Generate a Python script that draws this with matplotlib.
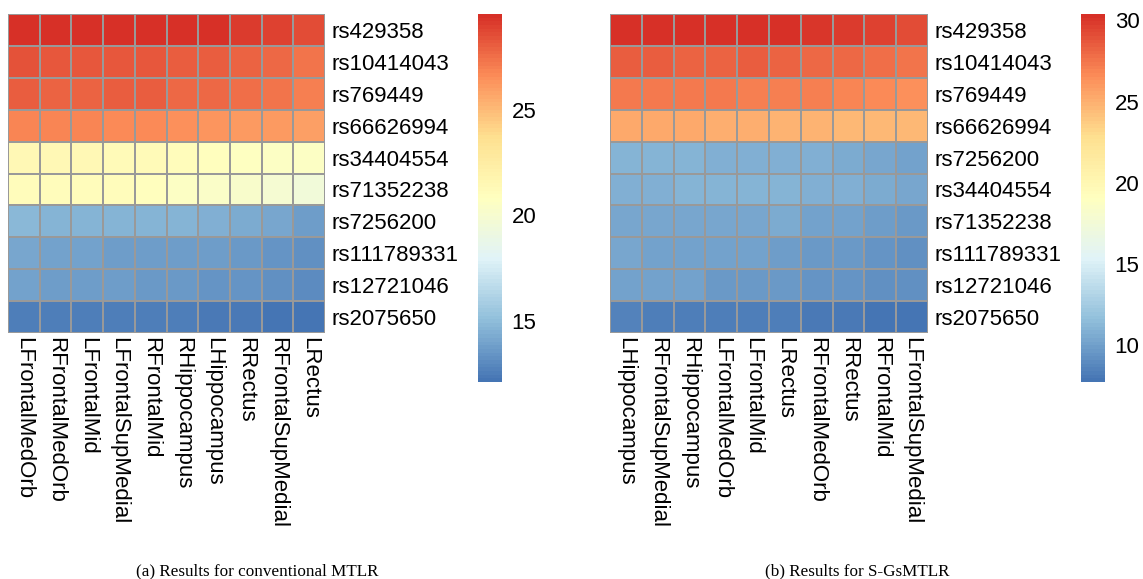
import numpy as np
import matplotlib
matplotlib.use("Agg")
import matplotlib.pyplot as plt
from matplotlib.colors import LinearSegmentedColormap

# ── Data ──────────────────────────────────────────────────────────────────────

snps_a = ["rs429358", "rs10414043", "rs769449", "rs66626994", "rs34404554",
          "rs71352238", "rs7256200", "rs111789331", "rs12721046", "rs2075650"]
regions_a = ["LFrontalMedOrb", "RFrontalMedOrb", "LFrontalMid", "LFrontalSupMedial",
             "RFrontalMid", "RHippocampus", "LHippocampus", "RRectus",
             "RFrontalSupMedial", "LRectus"]
values_a = [
    [29.5, 29.5, 29.5, 29.5, 29.55, 29.4, 29.4, 29.2, 28.9, 28.6],
    [28.4, 28.3, 28.3, 28.2, 28.3, 28.1, 28.0, 27.9, 27.7, 27.4],
    [28.0, 27.9, 27.9, 28.0, 28.1, 27.8, 27.8, 27.6, 27.4, 27.1],
    [26.9, 26.8, 26.8, 26.6, 26.6, 26.5, 26.4, 26.2, 26.1, 25.9],
    [21.5, 21.4, 21.4, 21.3, 21.2, 21.1, 20.9, 20.8, 20.6, 20.5],
    [21.1, 21.1, 21.0, 21.0, 20.9, 20.6, 20.4, 20.2, 19.8, 19.6],
    [14.8, 14.7, 14.7, 14.7, 14.7, 14.7, 14.5, 14.3, 14.1, 13.8],
    [14.1, 14.0, 14.0, 13.8, 13.8, 13.7, 13.7, 13.5, 13.4, 13.2],
    [13.9, 13.8, 13.8, 13.7, 13.6, 13.6, 13.4, 13.4, 13.3, 13.1],
    [12.6, 12.5, 12.5, 12.5, 12.5, 12.5, 12.4, 12.4, 12.1, 12.15],
]

snps_b = ["rs429358", "rs10414043", "rs769449", "rs66626994", "rs7256200",
          "rs34404554", "rs71352238", "rs111789331", "rs12721046", "rs2075650"]
regions_b = ["LHippocampus", "RFrontalSupMedial", "RHippocampus", "LFrontalMedOrb",
             "LFrontalMid", "LRectus", "RFrontalMedOrb", "RRectus",
             "RFrontalMid", "LFrontalSupMedial"]
values_b = [
    [30.3, 30.3, 30.3, 30.3, 30.3, 30.4, 30.1, 29.9, 29.6, 29.2],
    [28.4, 28.4, 28.3, 28.3, 28.4, 28.3, 28.1, 28.0, 27.8, 27.6],
    [27.4, 27.4, 27.3, 27.3, 27.2, 27.1, 27.1, 26.9, 26.7, 26.4],
    [25.3, 25.2, 25.2, 25.1, 25.0, 24.9, 24.9, 24.7, 24.7, 24.5],
    [11.1, 11.1, 11.1, 10.8, 10.8, 10.8, 10.8, 10.6, 10.4, 10.1],
    [10.8, 10.8, 10.9, 10.9, 11.0, 11.1, 10.8, 10.7, 10.5, 10.2],
    [10.3, 10.2, 10.2, 10.3, 10.4, 10.5, 10.1, 10.1, 9.9, 9.6],
    [10.2, 10.1, 10.1, 10.1, 10.1, 9.8, 9.7, 9.6, 9.4, 9.1],
    [10.0, 10.0, 10.0, 9.7, 9.6, 9.7, 9.4, 9.4, 9.2, 9.1],
    [8.4, 8.3, 8.3, 8.3, 8.3, 8.2, 8.1, 8.0, 7.8, 7.7],
]

captions = ["(a) Results for conventional MTLR", "(b) Results for S-GsMTLR"]

# pheatmap default palette: rev(brewer.pal(7, "RdYlBu"))
palette = ["#4575B4", "#91BFDB", "#E0F3F8", "#FFFFBF", "#FEE090", "#FC8D59", "#D73027"]
cmap = LinearSegmentedColormap.from_list("rdylbu_r", palette, N=100)

# ── Plot ──────────────────────────────────────────────────────────────────────

W, H = 1143, 579
fig = plt.figure(figsize=(W / 100, H / 100), dpi=100)
plt.rcParams["font.family"] = ["Liberation Sans", "DejaVu Sans"]
FS = 16


def px_axes(x0, y0, x1, y1):
    return fig.add_axes([x0 / W, 1 - y1 / H, (x1 - x0) / W, (y1 - y0) / H])


def draw_panel(hm_box, cb_box, data, rows, cols, caption, cap_x):
    data = np.array(data)
    ax = px_axes(*hm_box)
    mesh = ax.pcolormesh(data, cmap=cmap, vmin=data.min(), vmax=data.max(),
                         edgecolors="#999999", linewidth=1.2)
    ax.set_xlim(0, data.shape[1])
    ax.set_ylim(data.shape[0], 0)
    ax.set_xticks(np.arange(data.shape[1]) + 0.5)
    ax.set_xticklabels(cols, rotation=270, fontsize=FS, ha="center", va="top")
    ax.set_yticks(np.arange(data.shape[0]) + 0.5)
    ax.set_yticklabels(rows, fontsize=FS)
    ax.yaxis.tick_right()
    ax.tick_params(axis="y", length=0, pad=5)
    ax.tick_params(axis="x", length=0, pad=3)
    for s in ax.spines.values():
        s.set_visible(False)

    cax = px_axes(*cb_box)
    cb = fig.colorbar(mesh, cax=cax)
    cb.outline.set_visible(False)
    cb.ax.tick_params(length=0, labelsize=FS, pad=7)
    cb.set_ticks([t for t in [10, 15, 20, 25, 30]
                  if data.min() <= t <= data.max()])

    fig.text(cap_x / W, 1 - 571 / H, caption, ha="center", va="center",
             fontsize=12.3, family="Liberation Serif")


draw_panel((8, 14, 325, 333), (478, 14, 502, 382), values_a, snps_a, regions_a,
           captions[0], 257)
draw_panel((610, 14, 928, 333), (1081, 14, 1105, 382), values_b, snps_b, regions_b,
           captions[1], 857)

fig.savefig("out.png", dpi=100)
